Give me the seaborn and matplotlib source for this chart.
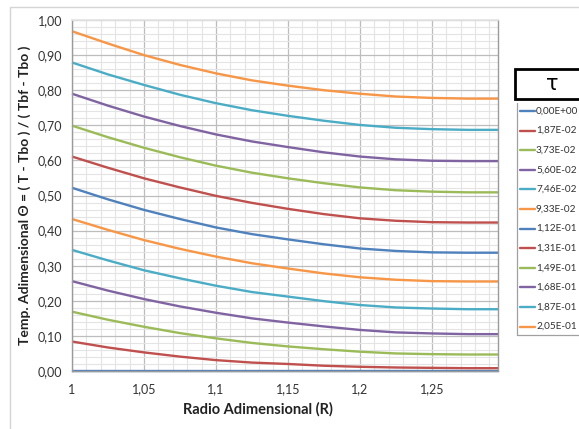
import numpy as np
import pandas as pd
import matplotlib
matplotlib.use("Agg")
import matplotlib.pyplot as plt
import seaborn as sns
from matplotlib.patches import Rectangle
from matplotlib.lines import Line2D

sns.set_theme(style="white")
plt.rcParams["font.family"] = ["Lato", "DejaVu Sans"]

# ---------------- data ----------------
R = [1.000, 1.025, 1.050, 1.075, 1.100, 1.125, 1.150, 1.175, 1.200, 1.225, 1.250, 1.275, 1.296]

tau_labels = ["0,00E+00", "1,87E-02", "3,73E-02", "5,60E-02", "7,46E-02", "9,33E-02",
              "1,12E-01", "1,31E-01", "1,49E-01", "1,68E-01", "1,87E-01", "2,05E-01"]

theta_00 = [0.000, 0.000, 0.000, 0.000, 0.000, 0.000, 0.000, 0.000, 0.000, 0.000, 0.000, 0.000, 0.000]
theta_01 = [0.084, 0.067, 0.053, 0.041, 0.031, 0.024, 0.020, 0.015, 0.012, 0.010, 0.009, 0.008, 0.008]
theta_02 = [0.169, 0.146, 0.126, 0.108, 0.093, 0.080, 0.070, 0.062, 0.055, 0.050, 0.048, 0.047, 0.047]
theta_03 = [0.256, 0.229, 0.205, 0.184, 0.166, 0.150, 0.138, 0.127, 0.117, 0.110, 0.107, 0.105, 0.105]
theta_04 = [0.345, 0.315, 0.287, 0.264, 0.243, 0.225, 0.212, 0.199, 0.188, 0.181, 0.178, 0.176, 0.176]
theta_05 = [0.433, 0.402, 0.373, 0.348, 0.326, 0.307, 0.292, 0.278, 0.267, 0.260, 0.256, 0.255, 0.255]
theta_06 = [0.522, 0.489, 0.459, 0.433, 0.409, 0.390, 0.375, 0.361, 0.349, 0.342, 0.338, 0.337, 0.337]
theta_07 = [0.611, 0.579, 0.549, 0.523, 0.499, 0.479, 0.462, 0.447, 0.435, 0.428, 0.424, 0.423, 0.423]
theta_08 = [0.699, 0.666, 0.636, 0.609, 0.585, 0.565, 0.549, 0.535, 0.523, 0.515, 0.511, 0.509, 0.509]
theta_09 = [0.790, 0.756, 0.725, 0.698, 0.674, 0.654, 0.638, 0.623, 0.611, 0.603, 0.599, 0.598, 0.598]
theta_10 = [0.879, 0.845, 0.815, 0.787, 0.763, 0.743, 0.727, 0.713, 0.701, 0.693, 0.689, 0.687, 0.687]
theta_11 = [0.968, 0.933, 0.900, 0.872, 0.848, 0.828, 0.813, 0.800, 0.790, 0.782, 0.778, 0.776, 0.776]

series = [theta_00, theta_01, theta_02, theta_03, theta_04, theta_05,
          theta_06, theta_07, theta_08, theta_09, theta_10, theta_11]

x_tick_values = [1.00, 1.05, 1.10, 1.15, 1.20, 1.25]
x_tick_labels = ["1", "1,05", "1,1", "1,15", "1,2", "1,25"]
y_tick_values = [0.0, 0.1, 0.2, 0.3, 0.4, 0.5, 0.6, 0.7, 0.8, 0.9, 1.0]
y_tick_labels = ["0,00", "0,10", "0,20", "0,30", "0,40", "0,50",
                 "0,60", "0,70", "0,80", "0,90", "1,00"]

base_colors = ["#4F81BD", "#C0504D", "#9BBB59", "#8064A2", "#4BACC6", "#F79646"]
colors = [base_colors[i % 6] for i in range(len(tau_labels))]

rows = []
for lab, vals in zip(tau_labels, series):
    for r, v in zip(R, vals):
        rows.append({"R": r, "theta": v, "tau": lab})
df = pd.DataFrame(rows)

# ---------------- figure ----------------
W, H = 579, 429
fig = plt.figure(figsize=(W / 100, H / 100), dpi=100)
fig.patch.set_facecolor("white")

# outer chart border
fig.add_artist(Rectangle((10 / W, -0.2), 1.5, (1 - 7 / H) + 0.2, transform=fig.transFigure,
                         fill=False, edgecolor="#d4d4d4", lw=1.0))

ax = fig.add_axes([72 / W, 1 - 371 / H, (498 - 72) / W, (371 - 20) / H])
ax.set_axisbelow(True)

sns.lineplot(data=df, x="R", y="theta", hue="tau", hue_order=tau_labels,
             palette=colors, ax=ax, linewidth=1.7, legend=False,
             estimator=None, sort=False)
for ln in ax.get_lines():
    ln.set_clip_on(False)
    ln.set_solid_capstyle("butt")

ax.set_xlim(1.0, 1.296)
ax.set_ylim(0, 1.0)
ax.set_xticks(x_tick_values)
ax.set_xticklabels(x_tick_labels)
ax.set_yticks(y_tick_values)
ax.set_yticklabels(y_tick_labels)
ax.set_xticks(np.arange(1.0, 1.2961, 0.01), minor=True)
ax.set_yticks(np.arange(0.0, 1.0001, 0.02), minor=True)
ax.grid(which="minor", color="#e4e4e4", lw=0.8)
ax.grid(which="major", color="#bdbdbd", lw=0.9)

ax.tick_params(axis="both", which="major", labelsize=9, labelcolor="#333333",
               length=3, color="#a0a0a0", width=0.8, pad=4)
ax.tick_params(axis="x", which="major", pad=9, length=0)
ax.tick_params(axis="both", which="minor", length=0)

for side in ["left", "right", "bottom"]:
    ax.spines[side].set_color("#9a9a9a")
    ax.spines[side].set_linewidth(1.0)
ax.spines["top"].set_color("#e4e4e4")

ax.set_xlabel("Radio Adimensional (R)", fontsize=10.5, fontweight="bold", color="#222222", labelpad=6)
ax.xaxis.set_label_coords((258 - 72) / (498 - 72), -0.09)
ax.set_ylabel("Temp. Adimensional \u0398 = ( T - Tbo ) / ( Tbf - Tbo )", fontsize=10,
              fontweight="bold", color="#222222", labelpad=5)

# ---------------- legend ----------------
# title box
fig.add_artist(Rectangle((515 / W, 1 - 99 / H), 90 / W, 30 / H, transform=fig.transFigure,
                         facecolor="white", edgecolor="black", lw=2.0, clip_on=False))
fig.text(552 / W, 1 - 84 / H, "\u03c4", fontsize=15, ha="center", va="center",
         family=["DejaVu Sans"], color="black")

# legend frame (left and bottom visible)
fig.add_artist(Line2D([517 / W, 517 / W], [1 - 103 / H, 1 - 335 / H], transform=fig.transFigure,
                      color="#a0a0a0", lw=0.9))
fig.add_artist(Line2D([517 / W, 1.0], [1 - 335 / H, 1 - 335 / H], transform=fig.transFigure,
                      color="#a0a0a0", lw=0.9))
for i, (lab, c) in enumerate(zip(tau_labels, colors)):
    y = 111 + i * 19.6
    fig.add_artist(Line2D([520 / W, 535 / W], [1 - y / H, 1 - y / H], transform=fig.transFigure,
                          color=c, lw=1.7))
    fig.text(536 / W, 1 - y / H, lab, fontsize=7.2, ha="left", va="center", color="#333333")

fig.savefig("out.png", dpi=100)
